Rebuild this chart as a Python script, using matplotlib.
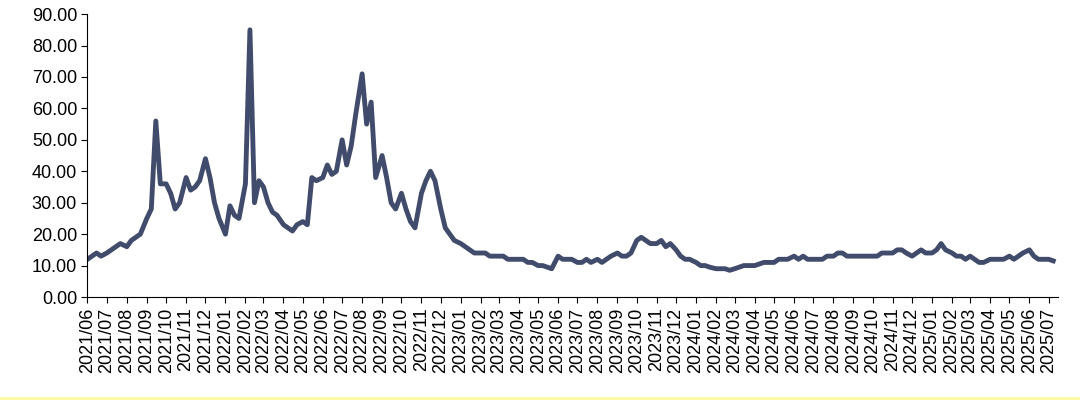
import matplotlib.pyplot as plt
import matplotlib.lines as mlines
import pandas as pd

plt.rcParams['font.family'] = ['Liberation Sans', 'DejaVu Sans']

# weekly readings, 4 per month starting 2021/06 (last month partial)
values = [
    12, 13, 14, 13,   14, 15, 16, 17,   16, 18, 19, 20,   25, 28, 56, 36,
    36, 33, 28, 30,   38, 34, 35, 37,   44, 38, 30, 25,   20, 29, 26, 25,
    36, 85, 30, 37,   35, 30, 27, 26,   23, 22, 21, 23,   24, 23, 38, 37,
    38, 42, 39, 40,   50, 42, 48, 58,   71, 55, 62, 38,   45, 38, 30, 28,
    33, 28, 24, 22,   33, 37, 40, 37,   28, 22, 20, 18,   17, 16, 15, 14,
    14, 14, 13, 13,   13, 13, 12, 12,   12, 12, 11, 11,   10, 10, 9.5, 9,
    13, 12, 12, 12,   11, 11, 12, 11,   12, 11, 12, 13,   14, 13, 13, 14,
    18, 19, 18, 17,   17, 18, 16, 17,   15, 13, 12, 12,
    11, 10, 10, 9.5,  9, 9, 9, 8.5,     9, 9.5, 10, 10,   10, 10.5, 11, 11,
    11, 12, 12, 12,   13, 12, 13, 12,   12, 12, 12, 13,   13, 14, 14, 13,
    13, 13, 13, 13,   13, 13, 14, 14,   14, 15, 15, 14,   13, 14, 15, 14,
    14, 15, 17, 15,   14, 13, 13, 12,   13, 12, 11, 11,   12, 12, 12, 12,
    13, 12, 13, 14,   15, 13, 12, 12,   12, 11.5,
]

months = pd.date_range('2021-06-01', '2025-07-01', freq='MS')
dates = []
for i in range(len(values)):
    dates.append(months[i // 4] + pd.Timedelta(days=7 * (i % 4)))

fig = plt.figure(figsize=(10.8, 4.03), dpi=100)
ax = fig.add_axes([0.081, 0.263, 0.899, 0.702])
ax.plot(dates, values, color='#414b6b', linewidth=3.5)

ax.set_ylim(0, 90)
ax.set_yticks(range(0, 91, 10))
ax.set_yticklabels([f'{v:.2f}' for v in range(0, 91, 10)], fontsize=13)
ax.set_xlim(months[0], pd.Timestamp('2025-07-16'))
ax.set_xticks(months)
ax.set_xticklabels([m.strftime('%Y/%m') for m in months], rotation=90, fontsize=13)
ax.tick_params(direction='out', length=4, color='black')
for s in ['top', 'right']:
    ax.spines[s].set_visible(False)

fig.add_artist(mlines.Line2D([0, 1], [0.012, 0.012], color='#fff8a0', linewidth=2))

fig.savefig('out.png')
